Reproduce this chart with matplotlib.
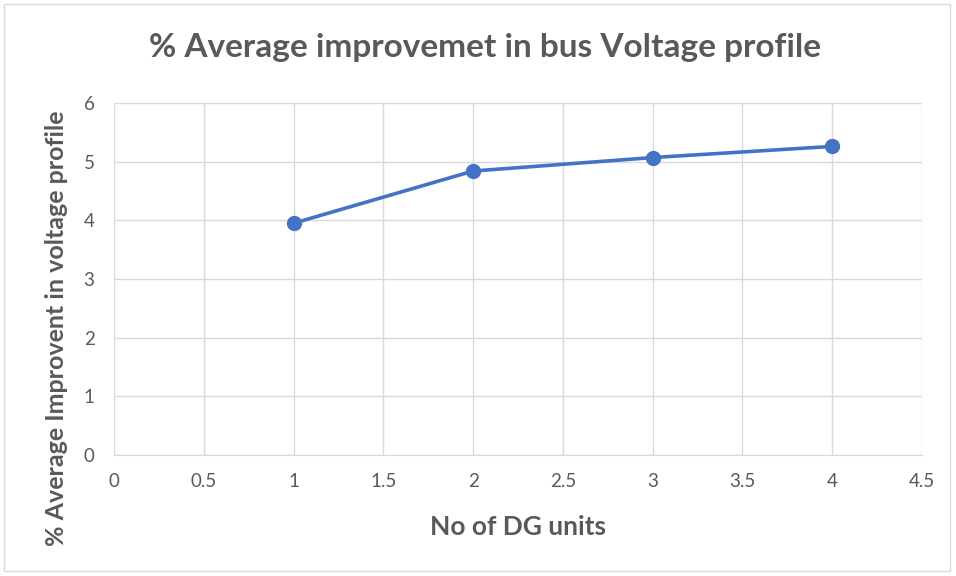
import matplotlib.pyplot as plt
from matplotlib.patches import Rectangle

dg_units = [1, 2, 3, 4]
improvement = [3.95, 4.84, 5.07, 5.26]
x_ticks = [0, 0.5, 1, 1.5, 2, 2.5, 3, 3.5, 4, 4.5]
x_tick_labels = ['0', '0.5', '1', '1.5', '2', '2.5', '3', '3.5', '4', '4.5']
y_ticks = [0, 1, 2, 3, 4, 5, 6]

plt.rcParams['font.family'] = ['Lato', 'DejaVu Sans']
text_color = '#595959'
grid_color = '#D9D9D9'

fig = plt.figure(figsize=(9.56, 5.76), dpi=100)
fig.patches.append(Rectangle((0.004, 0.008), 0.99, 0.985, transform=fig.transFigure,
                             fill=False, edgecolor=grid_color, linewidth=1))

ax = fig.add_axes([0.1192, 0.2101, 0.8452, 0.6111])
ax.plot(dg_units, improvement, color='#4472C4', linewidth=2.6,
        marker='o', markersize=10, zorder=3)

ax.set_xlim(0, 4.5)
ax.set_ylim(0, 6)
ax.set_xticks(x_ticks)
ax.set_xticklabels(x_tick_labels)
ax.set_yticks(y_ticks)
ax.grid(True, color=grid_color, linewidth=1)
ax.set_axisbelow(True)
ax.tick_params(length=0, labelsize=13.5, labelcolor=text_color)
ax.tick_params(axis='x', pad=13)
ax.tick_params(axis='y', pad=14)
for side in ['top', 'right', 'left']:
    ax.spines[side].set_visible(False)
ax.spines['bottom'].set_color(grid_color)

fig.text(485 / 956, 1 - 48 / 576, '% Average improvemet in bus Voltage profile',
         ha='center', va='center', fontsize=24, fontweight='bold', color=text_color)
fig.text(518 / 956, 1 - 527 / 576, 'No of DG units', ha='center', va='center',
         fontsize=19, fontweight='bold', color=text_color)
fig.text(57 / 956, 1 - 328 / 576, '% Average Improvent in voltage profile',
         ha='center', va='center', rotation=90,
         fontsize=18, fontweight='bold', color=text_color)

fig.savefig('out.png', dpi=100, facecolor='white')
